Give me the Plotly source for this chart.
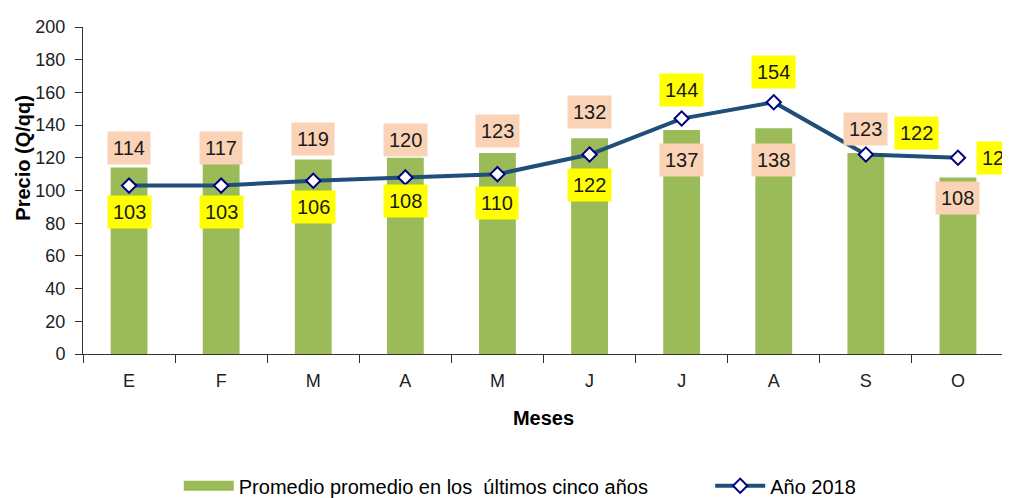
import plotly.graph_objects as go

meses = ["E", "F", "M", "A", "M", "J", "J", "A", "S", "O"]
promedio = [114, 117, 119, 120, 123, 132, 137, 138, 123, 108]
anio_2018 = [103, 103, 106, 108, 110, 122, 144, 154, 122, 120]
y_ticks = [0, 20, 40, 60, 80, 100, 120, 140, 160, 180, 200]

# label offsets in pixels (style only)
bar_lbl_shift = [20, 15, 20, 18, 22, 26, -30, -32, 24, -21]
line_lbl_dx = [0, 0, 0, 0, 0, 0, 0, 0, 51, 41]
line_lbl_dy = [-26, -26, -26, -24, -29, -30, 29, 30, 22, 0]

FONT = "Liberation Sans Narrow, Arial Narrow, Liberation Sans, Arial, sans-serif"
GREEN = "#9BBB59"
x = list(range(len(meses)))
bar_name = "Promedio promedio en los  últimos cinco años"

fig = go.Figure()
fig.add_trace(go.Bar(
    x=x, y=promedio, name=bar_name, showlegend=False, legendgroup="prom",
    marker=dict(color=GREEN, line=dict(width=0)), width=0.4,
))
# legend swatch for the bars (wide rectangle like the original)
fig.add_trace(go.Scatter(
    x=[None], y=[None], name=bar_name, mode="lines", legendgroup="prom",
    line=dict(color=GREEN, width=14), legend="legend",
))
fig.add_trace(go.Scatter(
    x=x, y=anio_2018, name="Año 2018", mode="lines+markers",
    line=dict(color="#1F4E79", width=4),
    marker=dict(symbol="diamond", size=11, color="white", line=dict(color="#000080", width=2)),
    legend="legend2",
))

for i in x:
    fig.add_annotation(x=i, y=promedio[i], text=str(promedio[i]), showarrow=False,
                       yshift=bar_lbl_shift[i], bgcolor="#FAD3B6", borderpad=5,
                       font=dict(family=FONT, size=20, color="#1a1a1a"))
    fig.add_annotation(x=i, y=anio_2018[i], text=str(anio_2018[i]), showarrow=False,
                       xshift=line_lbl_dx[i], yshift=line_lbl_dy[i], bgcolor="#FFFF00", borderpad=5,
                       font=dict(family=FONT, size=20, color="#1a1a1a"))

fig.add_annotation(x=-0.066, xref="paper", xanchor="center", y=0.5, yref="paper", yanchor="middle",
                   yshift=33, text="<b>Precio (Q/qq)</b>",
                   textangle=-90, showarrow=False, font=dict(family=FONT, size=20, color="black"))

leg_font = dict(family=FONT, size=20, color="black")
# page body adds an 8px offset, so the figure is 8px smaller and margins compensated
fig.update_layout(
    width=1002, height=490,
    margin=dict(l=75, r=6, t=19, b=144, autoexpand=False),
    plot_bgcolor="white", paper_bgcolor="white",
    font=dict(family=FONT, color="#222"),
    showlegend=True,
    legend=dict(orientation="h", x=0.104, xanchor="left", y=-0.403, yanchor="middle",
                font=leg_font, itemwidth=50),
    legend2=dict(orientation="h", x=0.681, xanchor="left", y=-0.403, yanchor="middle",
                 font=leg_font, itemwidth=50),
    xaxis=dict(range=[-0.5, 9.5], tickvals=x, ticktext=meses, ticks="", automargin=False,
               showline=True, linecolor="#333", linewidth=1, showgrid=False, zeroline=False,
               tickfont=dict(family=FONT, size=18, color="#222"), ticklabelstandoff=10,
               minor=dict(tick0=-0.5, dtick=1, ticks="outside", ticklen=8, tickcolor="#333", showgrid=False),
               title=dict(text="<b>Meses</b>", font=dict(family=FONT, size=20, color="black"), standoff=21)),
    yaxis=dict(range=[0, 200], tickvals=y_ticks, ticks="outside", ticklen=7, tickcolor="#333",
               automargin=False, ticklabelstandoff=6,
               showline=True, linecolor="#333", linewidth=1, showgrid=False, zeroline=False,
               tickfont=dict(family=FONT, size=18, color="#222")),
)

fig.write_html("out.html")
